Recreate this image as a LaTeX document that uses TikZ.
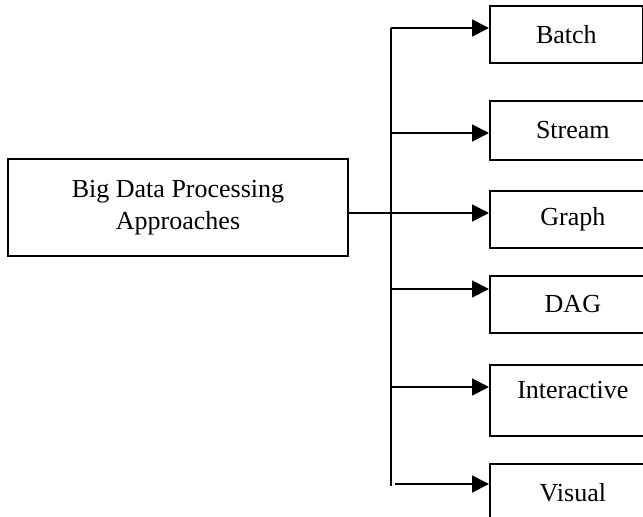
\documentclass[tikz,border=0pt]{standalone}
\usepackage{fontspec}
\setmainfont{Liberation Serif}
\usetikzlibrary{arrows.meta}
\begin{document}
\begin{tikzpicture}[x=0.025cm, y=-0.025cm, line width=1.2pt,
  every node/.style={draw, rectangle, inner sep=0pt, font=\fontsize{18.5}{22.75}\selectfont},
  approach/.style={anchor=north west, minimum width=4.15cm, minimum height=1.425cm},
  every edge/.style={draw, -{Triangle[length=12pt,width=12pt]}}]

       % Kasten links, Aeste nach rechts
  \useasboundingbox (0,0) rectangle (643,516);
  \coordinate (b1) at (391,28);
  \coordinate (b2) at (391,133);
  \coordinate (b3) at (391,213);
  \coordinate (b4) at (391,289);
  \coordinate (b5) at (391,387);
  \coordinate (b6) at (395,484);
  \coordinate (foot) at (391,486);
  \node[minimum width=8.5cm, minimum height=2.425cm, align=center] (main) at (178,207.5) {Big Data Processing\\Approaches};
  \node[approach, minimum width=3.825cm] (batch) at (489,5) {Batch};
  \node[approach, minimum height=1.475cm] (stream) at (489,100) {Stream};
  \node[approach] (graph) at (489,190) {Graph};
  \node[approach] (dag) at (489,275) {DAG};
  \node[approach, minimum height=1.775cm, text depth=15pt] (inter) at (489,364) {Interactive};
  \node[approach] (visual) at (489,463) {Visual};
  \draw (b1) -- (foot);
  \draw (main.east |- b3) -- (b3);
  \draw (b1) edge (b1 -| batch.west);
  \draw (b2) edge (b2 -| stream.west);
  \draw (b3) edge (b3 -| graph.west);
  \draw (b4) edge (b4 -| dag.west);
  \draw (b5) edge (b5 -| inter.west);
  \draw (b6) edge (b6 -| visual.west);

        \end{tikzpicture}
\end{document}
